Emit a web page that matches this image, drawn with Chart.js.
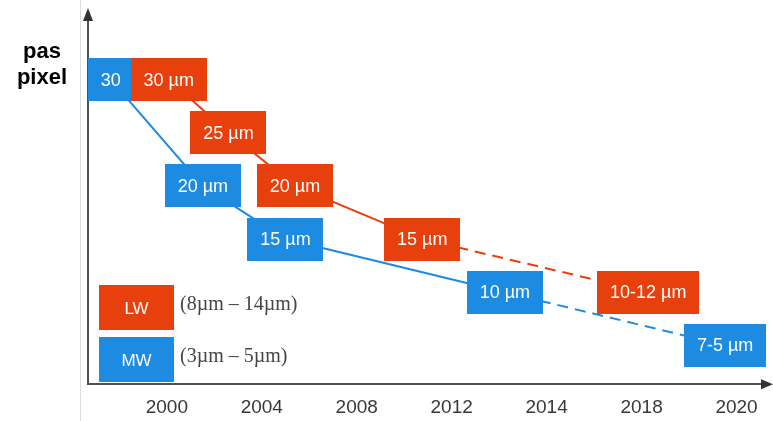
<!DOCTYPE html>
<html>
<head>
<meta charset="utf-8">
<script src="https://cdn.jsdelivr.net/npm/chart.js@4.4.1/dist/chart.umd.min.js"></script>
<style>
  html, body { margin: 0; padding: 0; background: #fff; }
  #wrap { width: 773px; height: 421px; position: relative; }
</style>
</head>
<body>
<div id="wrap"><canvas id="c" width="773" height="421"></canvas></div>
<script>
// ---- data ----
const years = ['2000', '2004', '2008', '2012', '2014', '2018', '2020'];
const seriesNames = ['LW', 'MW'];
const seriesRanges = ['(8\u00b5m \u2013 14\u00b5m)', '(3\u00b5m \u2013 5\u00b5m)'];
// x = position along the (period-index) time axis, y = pixel pitch in µm
const lwX = [0.02, 0.65, 1.35, 2.69, 5.07];
const lwY = [30, 25, 20, 15, 10];
const lwLabels = ['30 \u00b5m', '25 \u00b5m', '20 \u00b5m', '15 \u00b5m', '10-12 \u00b5m'];
const mwX = [-0.59, 0.38, 1.25, 3.56, 5.88];
const mwY = [30, 20, 15, 10, 5];
const mwLabels = ['30', '20 \u00b5m', '15 \u00b5m', '10 \u00b5m', '7-5 \u00b5m'];

const LW_COLOR = '#E8400C';
const MW_COLOR = '#1E8BE2';
const AXIS_COLOR = '#505050';

const toPts = (xs, ys) => xs.map((x, i) => ({ x: x, y: ys[i] }));

const dashLast = (n) => ({
  borderDash: ctx => (ctx.p1DataIndex === n - 1 ? [11, 7] : undefined)
});

const decorPlugin = {
  id: 'decor',
  beforeDraw(chart) {
    const ctx = chart.ctx;
    ctx.save();
    ctx.strokeStyle = '#dcdcdc';
    ctx.lineWidth = 1;
    ctx.beginPath();
    ctx.moveTo(80.5, 0);
    ctx.lineTo(80.5, 421);
    ctx.stroke();
    ctx.restore();
  },
  afterDatasetsDraw(chart) {
    const ctx = chart.ctx;
    const ca = chart.chartArea;
    ctx.save();
    // axis arrows
    ctx.fillStyle = '#333';
    const yAxisX = ca.left;
    ctx.beginPath();
    ctx.moveTo(yAxisX, ca.top - 12);
    ctx.lineTo(yAxisX - 5, ca.top + 1);
    ctx.lineTo(yAxisX + 5, ca.top + 1);
    ctx.closePath();
    ctx.fill();
    ctx.beginPath();
    ctx.moveTo(ca.right + 8, ca.bottom);
    ctx.lineTo(ca.right - 4, ca.bottom - 5);
    ctx.lineTo(ca.right - 4, ca.bottom + 5);
    ctx.closePath();
    ctx.fill();

    // value boxes
    const boxH = 43, pad = 13;
    ctx.font = '18px "Liberation Sans", Arial, sans-serif';
    ctx.textAlign = 'center';
    ctx.textBaseline = 'middle';
    const drawBoxes = (dsIndex, labels, color) => {
      const meta = chart.getDatasetMeta(dsIndex);
      meta.data.forEach((pt, i) => {
        const w = ctx.measureText(labels[i]).width + pad * 2;
        ctx.fillStyle = color;
        ctx.fillRect(Math.round(pt.x - w / 2), Math.round(pt.y - boxH / 2), Math.round(w), boxH);
        ctx.fillStyle = '#ffffff';
        ctx.fillText(labels[i], pt.x, pt.y + 1);
      });
    };
    drawBoxes(1, mwLabels, MW_COLOR);
    drawBoxes(0, lwLabels, LW_COLOR);

    // legend
    const legColors = [LW_COLOR, MW_COLOR];
    const legTop = [285, 337];
    seriesNames.forEach((name, i) => {
      ctx.fillStyle = legColors[i];
      ctx.fillRect(99, legTop[i], 75, 45);
      ctx.fillStyle = '#ffffff';
      ctx.font = '17px "Liberation Sans", Arial, sans-serif';
      ctx.textAlign = 'center';
      ctx.fillText(name, 136.5, legTop[i] + 24);
      ctx.fillStyle = '#444';
      ctx.font = '20px "Liberation Serif", "DejaVu Serif", serif';
      ctx.textAlign = 'left';
      ctx.fillText(seriesRanges[i], 180, legTop[i] + 20);
    });

    // y axis title
    ctx.fillStyle = '#000';
    ctx.font = 'bold 22px "Liberation Sans", Arial, sans-serif';
    ctx.textAlign = 'center';
    ctx.fillText('pas', 42, 52);
    ctx.fillText('pixel', 42, 78);
    ctx.restore();
  }
};

new Chart(document.getElementById('c'), {
  type: 'line',
  data: {
    datasets: [
      {
        label: seriesNames[0],
        data: toPts(lwX, lwY),
        borderColor: LW_COLOR,
        backgroundColor: LW_COLOR,
        borderWidth: 2,
        pointRadius: 0,
        tension: 0,
        segment: dashLast(lwX.length)
      },
      {
        label: seriesNames[1],
        data: toPts(mwX, mwY),
        borderColor: MW_COLOR,
        backgroundColor: MW_COLOR,
        borderWidth: 2,
        pointRadius: 0,
        tension: 0,
        segment: dashLast(mwX.length)
      }
    ]
  },
  options: {
    responsive: false,
    animation: false,
    events: [],
    layout: { padding: { left: 88, right: 8, top: 20, bottom: -10 } },
    plugins: { legend: { display: false }, tooltip: { enabled: false }, title: { display: false } },
    scales: {
      x: {
        type: 'linear',
        min: -0.83,
        max: 6.30,
        grid: { display: false, drawTicks: false },
        border: { display: true, color: AXIS_COLOR, width: 2 },
        afterBuildTicks: axis => { axis.ticks = years.map((_, i) => ({ value: i })); },
        ticks: {
          autoSkip: false,
          maxRotation: 0,
          padding: 12,
          color: '#383838',
          font: { family: '"Liberation Sans", Arial, sans-serif', size: 19 },
          callback: v => years[v]
        }
      },
      y: {
        type: 'linear',
        min: 1.35,
        max: 35.6,
        grid: { display: false, drawTicks: false },
        border: { display: true, color: AXIS_COLOR, width: 2 },
        ticks: { display: false }
      }
    }
  },
  plugins: [decorPlugin]
});
</script>
</body>
</html>
